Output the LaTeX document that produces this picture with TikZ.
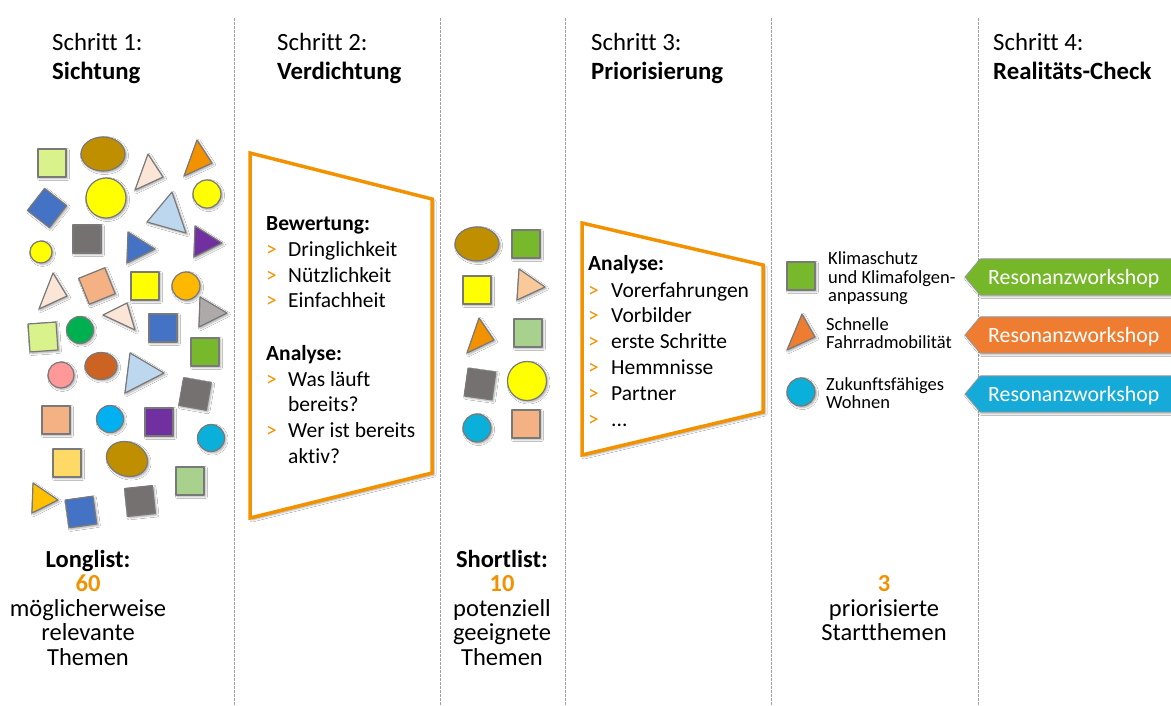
\documentclass[tikz,border=0pt]{standalone}
\usepackage{fontspec}
\setmainfont[Ligatures=NoCommon]{Carlito}
\usetikzlibrary{shadows,shadows.blur}
\definecolor{cLime}{HTML}{DAF28B}
\definecolor{cBrown}{HTML}{BF8F00}
\definecolor{cPeach}{HTML}{FBE5D6}
\definecolor{cOrange}{HTML}{F39200}
\definecolor{cBlue}{HTML}{4472C4}
\definecolor{cYellow}{HTML}{FFFF00}
\definecolor{cLBlue}{HTML}{BDD7EE}
\definecolor{cGray}{HTML}{767171}
\definecolor{cPurple}{HTML}{7030A0}
\definecolor{cSalmon}{HTML}{F4B183}
\definecolor{cGold}{HTML}{FFB800}
\definecolor{cLGray}{HTML}{AEAAAA}
\definecolor{cGreenC}{HTML}{00B050}
\definecolor{cGreen}{HTML}{77B82C}
\definecolor{cPink}{HTML}{FF9999}
\definecolor{cRust}{HTML}{CC6322}
\definecolor{cCyan}{HTML}{00B0F0}
\definecolor{cTeal}{HTML}{0AB0DA}
\definecolor{cLYellow}{HTML}{FFD966}
\definecolor{cLGreen}{HTML}{A9D18E}
\definecolor{cAmber}{HTML}{FFC000}
\definecolor{cApricot}{HTML}{FAC99A}
\definecolor{tGreen}{HTML}{76B72A}
\definecolor{tOrange}{HTML}{EE7D31}
\definecolor{tBlue}{HTML}{15AAD7}
\definecolor{frame}{HTML}{F39200}
\definecolor{sepline}{HTML}{A0A0A0}
\newcommand\mysq[4]{\draw[shp,fill=#4,rotate around={#3:(#1,#2)}] (#1-14,#2-14) rectangle (#1+14,#2+14);}
\newcommand\mytri[4]{\draw[shp,fill=#4] #1 -- #2 -- #3 -- cycle;}
\newcommand\mycirc[4]{\draw[shp,fill=#4] (#1,#2) circle[radius=#3];}
\newcommand\myell[6]{\draw[shp,fill=#6,rotate around={#5:(#1,#2)}] (#1,#2) ellipse[x radius=#3,y radius=#4];}
\begin{document}
\begin{tikzpicture}[x=1pt,y=-1pt,
  shp/.style={draw=gray!95!black,line width=1.2pt,line join=round,
    blur shadow={shadow xshift=1.5pt,shadow yshift=-1.5pt,shadow blur radius=2pt,shadow opacity=35}},
  sep/.style={draw=sepline,line width=1pt,dash pattern=on 3pt off 1pt},
  trap/.style={draw=frame,line width=3.5pt,line join=miter,fill=white,
    blur shadow={shadow xshift=2pt,shadow yshift=-2pt,shadow blur radius=2pt,shadow opacity=35}},
  tag/.style={draw=gray!80,line width=0.8pt,
    blur shadow={shadow xshift=1.5pt,shadow yshift=-1.5pt,shadow blur radius=2pt,shadow opacity=35}},
  head/.style={anchor=base west,inner sep=0pt,font=\fontsize{24.8}{28}\selectfont},
  headb/.style={anchor=base west,inner sep=0pt,font=\fontsize{24.8}{28}\selectfont\bfseries},
  txt/.style={anchor=base west,inner sep=0pt,font=\fontsize{21.5}{24}\selectfont},
  txtb/.style={anchor=base west,inner sep=0pt,font=\fontsize{21.5}{24}\selectfont\bfseries},
  bul/.style={anchor=base west,inner sep=0pt,text=frame,font=\fontsize{21.5}{24}\selectfont},
  btxt/.style={anchor=base,inner sep=0pt,font=\fontsize{24.5}{26}\selectfont},
  btxtb/.style={anchor=base,inner sep=0pt,font=\fontsize{24.5}{26}\selectfont\bfseries},
  stxt/.style={anchor=base west,inner sep=0pt,font=\fontsize{18.5}{20}\selectfont},
  ttxt/.style={anchor=base west,inner sep=0pt,text=white,font=\fontsize{21.8}{24}\selectfont}]
\clip (0,0) rectangle (1171,705);
\fill[white] (0,0) rectangle (1171,705);

% separators
\coordinate (s1a) at (234,18); \coordinate (s1b) at (234,705);
\coordinate (s2a) at (440,18); \coordinate (s2b) at (440,705);
\coordinate (s3a) at (565,18); \coordinate (s3b) at (565,705);
\coordinate (s4a) at (771,18); \coordinate (s4b) at (771,705);
\coordinate (s5a) at (978,18); \coordinate (s5b) at (978,705);
\draw[sep] (s1a) -- (s1b);
\draw[sep] (s2a) -- (s2b);
\draw[sep] (s3a) -- (s3b);
\draw[sep] (s4a) -- (s4b);
\draw[sep] (s5a) -- (s5b);

% headers
\node[head] (h1a) at (52,50) {Schritt 1:};
\node[headb] (h1b) at (52,79) {Sichtung};
\node[head] (h2a) at (277,50) {Schritt 2:};
\node[headb] (h2b) at (277,79) {Verdichtung};
\node[head] (h3a) at (591,50) {Schritt 3:};
\node[headb] (h3b) at (591,79) {Priorisierung};
\node[head] (h4a) at (993,50) {Schritt 4:};
\node[headb] (h4b) at (993,79) {Realitäts-Check};

% ---- longlist shapes
\mysq{52}{163}{0}{cLime}
\myell{103}{154}{22}{17}{0}{cBrown}
\mytri{(148,154)}{(163,177)}{(135,190)}{cPeach}
\mytri{(197,140)}{(212,163)}{(184,176)}{cOrange}
\mysq{47}{208}{-38}{cBlue}
\mycirc{106}{198}{20}{cYellow}
\mycirc{207}{194}{14}{cYellow}
\mytri{(172,192)}{(186,233)}{(147,222)}{cLBlue}
\mycirc{41}{252}{11}{cYellow}
\mysq{87}{239}{0}{cGray}
\mytri{(128,232)}{(155,249)}{(127,263)}{cBlue}
\mytri{(195,226)}{(222,243)}{(194,257)}{cPurple}
\mytri{(53,273)}{(67,296)}{(39,309)}{cPeach}
\mysq{97}{286}{22}{cSalmon}
\mysq{145}{286}{0}{cYellow}
\mycirc{186}{286}{14}{cGold}
\mytri{(200,297)}{(227,313)}{(199,327)}{cLGray}
\mytri{(127,303)}{(135,330)}{(103,315)}{cPeach}
\mysq{43}{337}{4}{cLime}
\mycirc{80}{330}{13.5}{cGreenC}
\mysq{163}{328}{0}{cBlue}
\mysq{205}{352}{0}{cGreen}
\mycirc{61}{375}{13}{cPink}
\myell{101}{366}{16}{13.5}{0}{cRust}
\mytri{(130,353)}{(164,373)}{(125,393)}{cLBlue}
\mysq{195}{394}{-10}{cGray}
\mysq{56}{420}{0}{cSalmon}
\mycirc{110}{419}{13.5}{cCyan}
\mysq{159}{422}{0}{cPurple}
\mycirc{211}{438}{13.5}{cTeal}
\mysq{67}{463}{0}{cLYellow}
\myell{127}{459}{21}{17}{-20}{cBrown}
\mysq{190}{481}{0}{cLGreen}
\mytri{(33,483)}{(58,500)}{(32,513)}{cAmber}
\mysq{81}{512}{8}{cBlue}
\mysq{140}{501}{6}{cGray}

% ---- trapezoid 1
\draw[trap] (250,153) -- (432,199) -- (432,473) -- (250,518) -- cycle;
\node[txtb] (b0) at (266,230.5) {Bewertung:};
\node[bul] (b1g) at (266,256.5) {>}; \node[txt] (b1) at (288,256.5) {Dringlichkeit};
\node[bul] (b2g) at (266,282.5) {>}; \node[txt] (b2) at (288,282.5) {Nützlichkeit};
\node[bul] (b3g) at (266,307.5) {>}; \node[txt] (b3) at (288,307.5) {Einfachheit};
\node[txtb] (a0) at (266,360) {Analyse:};
\node[bul] (a1g) at (266,386) {>}; \node[txt] (a1) at (288,386) {Was läuft};
\node[txt] (a1b) at (288,411.5) {bereits?};
\node[bul] (a2g) at (266,437.5) {>}; \node[txt] (a2) at (288,437.5) {Wer ist bereits};
\node[txt] (a2b) at (288,463) {aktiv?};

% ---- shortlist shapes
\myell{477}{244}{22}{17}{0}{cBrown}
\mysq{526}{244}{0}{cGreen}
\mysq{477}{290}{0}{cYellow}
\mytri{(519,269)}{(545,287)}{(517,300)}{cApricot}
\mytri{(479,318)}{(494,340)}{(467,353)}{cOrange}
\mysq{528}{333}{0}{cLGreen}
\mysq{480}{384}{-8}{cGray}
\mycirc{527}{381}{19.5}{cYellow}
\mycirc{477}{428}{14}{cTeal}
\mysq{526}{424}{0}{cSalmon}

% ---- trapezoid 2
\draw[trap] (582,223) -- (763,265) -- (763,412) -- (582,455) -- cycle;
\node[txtb] (p0) at (588,270) {Analyse:};
\node[bul] (p1g) at (588,297) {>}; \node[txt] (p1) at (611,297) {Vorerfahrungen};
\node[bul] (p2g) at (588,322.7) {>}; \node[txt] (p2) at (611,322.7) {Vorbilder};
\node[bul] (p3g) at (588,348.5) {>}; \node[txt] (p3) at (611,348.5) {erste Schritte};
\node[bul] (p4g) at (588,374.5) {>}; \node[txt] (p4) at (611,374.5) {Hemmnisse};
\node[bul] (p5g) at (588,400.5) {>}; \node[txt] (p5) at (611,400.5) {Partner};
\node[bul] (p6g) at (588,426.5) {>}; \node[txt] (p6) at (611,426.5) {...};

% ---- prioritised topics
\mysq{801}{276}{0}{cGreen}
\mytri{(802,314)}{(815,337)}{(787,350)}{tOrange}
\mycirc{801}{392}{14}{cTeal}
\node[stxt] (k1) at (828,264) {Klimaschutz};
\node[stxt] (k2) at (828,283) {und Klimafolgen-};
\node[stxt] (k3) at (828,301) {anpassung};
\node[stxt] (f1) at (826,330) {Schnelle};
\node[stxt] (f2) at (826,348) {Fahrradmobilität};
\node[stxt] (z1) at (826,390) {Zukunftsfähiges};
\node[stxt] (z2) at (826,408) {Wohnen};

% ---- tags
\draw[tag,fill=tGreen] (965,277) -- (980,259) -- (1185,259) -- (1185,295) -- (980,295) -- cycle;
\draw[tag,fill=tOrange] (965,335) -- (980,317) -- (1185,317) -- (1185,353) -- (980,353) -- cycle;
\draw[tag,fill=tBlue] (965,394) -- (980,376) -- (1185,376) -- (1185,412) -- (980,412) -- cycle;
\node[ttxt] (r1) at (988,284) {Resonanzworkshop};
\node[ttxt] (r2) at (988,342) {Resonanzworkshop};
\node[ttxt] (r3) at (988,401) {Resonanzworkshop};

% ---- bottom texts
\node[btxtb] (l1) at (88,567) {Longlist:};
\node[btxtb,text=frame] (l2) at (88,591) {60};
\node[btxt] (l3) at (88,616) {möglicherweise};
\node[btxt] (l4) at (88,640) {relevante};
\node[btxt] (l5) at (88,665) {Themen};
\node[btxtb] (s1) at (502,567) {Shortlist:};
\node[btxtb,text=frame] (s2) at (502,591) {10};
\node[btxt] (s3) at (502,616) {potenziell};
\node[btxt] (s4) at (502,640) {geeignete};
\node[btxt] (s5) at (502,665) {Themen};
\node[btxtb,text=frame] (q2) at (884,591) {3};
\node[btxt] (q3) at (884,616) {priorisierte};
\node[btxt] (q4) at (884,640) {Startthemen};
\end{tikzpicture}
\end{document}
